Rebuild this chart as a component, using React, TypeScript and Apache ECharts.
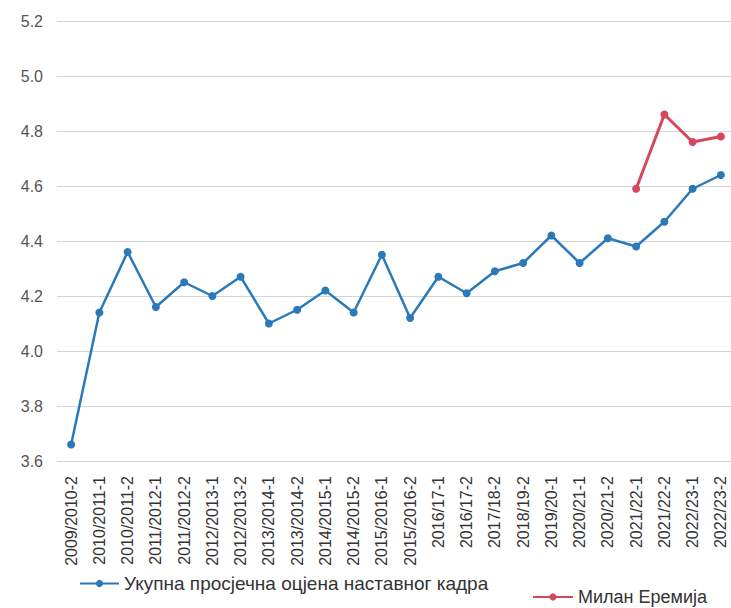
import React, { useEffect, useRef } from "react";
import * as echarts from "echarts";

const categories = [
  "2009/2010-2", "2010/2011-1", "2010/2011-2", "2011/2012-1", "2011/2012-2",
  "2012/2013-1", "2012/2013-2", "2013/2014-1", "2013/2014-2", "2014/2015-1",
  "2014/2015-2", "2015/2016-1", "2015/2016-2", "2016/17-1", "2016/17-2",
  "2017/18-2", "2018/19-2", "2019/20-1", "2020/21-1", "2020/21-2",
  "2021/22-1", "2021/22-2", "2022/23-1", "2022/23-2",
];

const totalAverage = [
  3.66, 4.14, 4.36, 4.16, 4.25, 4.2, 4.27, 4.1, 4.15, 4.22,
  4.14, 4.35, 4.12, 4.27, 4.21, 4.29, 4.32, 4.42, 4.32, 4.41,
  4.38, 4.47, 4.59, 4.64,
];

const milanEremija = [
  null, null, null, null, null, null, null, null, null, null,
  null, null, null, null, null, null, null, null, null, null,
  4.59, 4.86, 4.76, 4.78,
];

const seriesNames = ["Укупна просјечна оцјена наставног кадра", "Милан Еремија"];
const yTicks = { min: 3.6, max: 5.2, interval: 0.2 };

export default function App() {
  const ref = useRef<HTMLDivElement>(null);
  useEffect(() => {
    if (!ref.current) return;
    const chart = echarts.init(ref.current, undefined, { renderer: "svg" });
    const font = "'Liberation Sans', Arial, sans-serif";
    chart.setOption({
      animation: false,
      backgroundColor: "#ffffff",
      textStyle: { fontFamily: font },
      grid: { left: 57, right: 25, top: 21, height: 440 },
      legend: [
        {
          data: [seriesNames[0]],
          left: 74,
          top: 569,
          itemWidth: 39,
          itemHeight: 9,
          itemGap: 6,
          textStyle: { fontSize: 19, color: "#333", fontFamily: font },
        },
        {
          data: [seriesNames[1]],
          left: 527,
          top: 583,
          itemWidth: 40,
          itemHeight: 9,
          textStyle: { fontSize: 18, color: "#333", fontFamily: font },
        },
      ],
      xAxis: {
        type: "category",
        data: categories,
        boundaryGap: true,
        axisLine: { show: false },
        axisTick: { show: false },
        axisLabel: {
          rotate: 90,
          interval: 0,
          margin: 15,
          fontSize: 16,
          color: "#333",
          fontFamily: font,
        },
      },
      yAxis: {
        type: "value",
        min: yTicks.min,
        max: yTicks.max,
        interval: yTicks.interval,
        axisLine: { show: false },
        axisTick: { show: false },
        axisLabel: {
          margin: 14,
          fontSize: 16,
          color: "#555",
          fontFamily: font,
          formatter: (v: number) => v.toFixed(1),
        },
        splitLine: { lineStyle: { color: "#d4d4d4", width: 1 } },
      },
      series: [
        {
          name: seriesNames[0],
          type: "line",
          data: totalAverage,
          color: "#2b79b9",
          symbol: "circle",
          symbolSize: 8,
          lineStyle: { width: 2.5, color: "#2b79b9" },
          itemStyle: { color: "#2b79b9" },
        },
        {
          name: seriesNames[1],
          type: "line",
          data: milanEremija,
          color: "#d5465f",
          symbol: "circle",
          symbolSize: 8,
          lineStyle: { width: 3, color: "#d5465f" },
          itemStyle: { color: "#d5465f" },
        },
      ],
    });
    return () => chart.dispose();
  }, []);

  return (
    <div
      style={{
        position: "fixed",
        left: 0,
        top: 0,
        width: 731,
        height: 608,
        overflow: "hidden",
        background: "#fff",
      }}
    >
      <div ref={ref} style={{ width: 760, height: 608 }} />
    </div>
  );
}
